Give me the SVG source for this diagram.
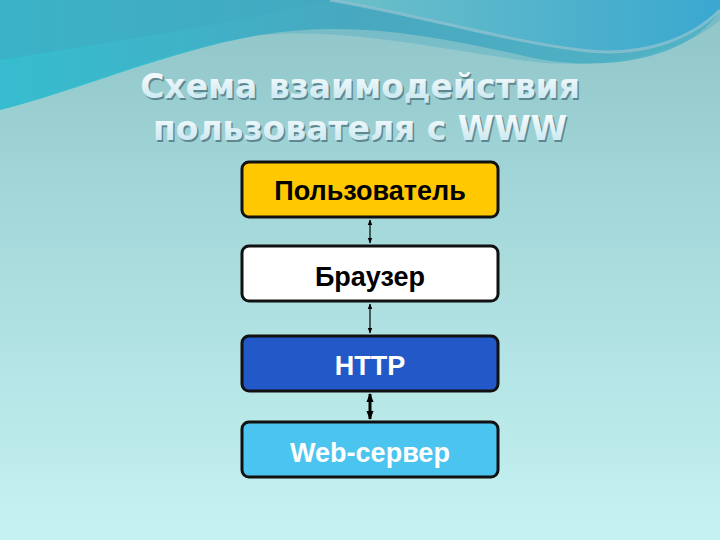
<svg xmlns="http://www.w3.org/2000/svg" width="720" height="540" viewBox="0 0 720 540">
<defs>
<linearGradient id="bg" x1="0" y1="0" x2="0" y2="1">
<stop offset="0" stop-color="#8fc4c8"/>
<stop offset="0.35" stop-color="#a2d6d8"/>
<stop offset="1" stop-color="#c6f2f2"/>
</linearGradient>
<linearGradient id="wave1" x1="0" y1="0" x2="1" y2="0">
<stop offset="0" stop-color="#2ec8d8"/>
<stop offset="0.5" stop-color="#48a8c0"/>
<stop offset="1" stop-color="#5ab8c8"/>
</linearGradient>
<linearGradient id="wave2" x1="0" y1="0" x2="1" y2="0">
<stop offset="0" stop-color="#6ec0c8"/>
<stop offset="1" stop-color="#3aa8d0"/>
</linearGradient>
<linearGradient id="title" x1="0" y1="0" x2="0" y2="1">
<stop offset="0" stop-color="#ffffff"/>
<stop offset="1" stop-color="#c0e4ee"/>
</linearGradient>
<marker id="ah" viewBox="0 0 10 10" refX="9" refY="5" markerWidth="5" markerHeight="5" orient="auto-start-reverse">
<path d="M0,1 L10,5 L0,9 z" fill="#000"/>
</marker>
<marker id="ah2" viewBox="0 0 10 10" refX="9" refY="5" markerWidth="3" markerHeight="3" orient="auto-start-reverse">
<path d="M0,1 L10,5 L0,9 z" fill="#000"/>
</marker>
<style>
.box{stroke:#111;stroke-width:3}
.lbl{font-family:"Liberation Sans",Arial,sans-serif;font-size:27px;font-weight:bold;text-anchor:middle}
.ttl{font-family:"DejaVu Sans","Liberation Sans",sans-serif;font-size:33px;font-weight:bold;text-anchor:middle}
.ttl-f{fill:url(#title)}
.ttl-s{fill:#5f8790}
.ln{stroke:#000;fill:none}
</style>
</defs>
<rect width="720" height="540" fill="url(#bg)"/>
<path d="M0,0 H720 V10 C690,60 600,75 520,55 C430,35 350,20 260,35 C170,50 80,90 0,110 Z" fill="url(#wave1)"/>
<path d="M0,110 C80,90 170,45 260,35 C340,28 420,45 520,60 C600,72 680,55 720,20 V0 H0 Z" fill="#48a8c0" opacity="0.35"/>
<path d="M330,0 H720 V10 C690,40 640,58 580,50 C500,40 420,15 330,0 Z" fill="url(#wave2)"/>
<path d="M330,0 C420,15 500,40 580,50 C640,58 690,40 720,10" fill="none" stroke="#8cc0d0" stroke-width="3" opacity="0.8"/>
<path d="M0,0 H330 C250,20 150,35 0,60 Z" fill="#40a8c0" opacity="0.5"/>
<g id="title-text">
<text class="ttl ttl-s" x="361.5" y="99.5">Схема взаимодействия</text>
<text class="ttl ttl-s" x="361.5" y="141.5">пользователя с WWW</text>
<text class="ttl ttl-f" x="360" y="98">Схема взаимодействия</text>
<text class="ttl ttl-f" x="360" y="140">пользователя с WWW</text>
</g>
<g id="connectors">
<line class="ln" x1="370" y1="220" x2="370" y2="243" stroke-width="1.2" marker-start="url(#ah)" marker-end="url(#ah)"/>
<line class="ln" x1="370" y1="304" x2="370" y2="333" stroke-width="1.2" marker-start="url(#ah)" marker-end="url(#ah)"/>
<line class="ln" x1="370" y1="394" x2="370" y2="419" stroke-width="3" marker-start="url(#ah2)" marker-end="url(#ah2)"/>
</g>
<g id="node-user">
<rect class="box" x="242" y="162" width="256" height="55" rx="7" fill="#ffc800"/>
<text class="lbl" x="370" y="200" fill="#000">Пользователь</text>
</g>
<g id="node-browser">
<rect class="box" x="242" y="246" width="256" height="55" rx="7" fill="#ffffff"/>
<text class="lbl" x="370" y="286" fill="#000" font-weight="normal" style="font-weight:600">Браузер</text>
</g>
<g id="node-http">
<rect class="box" x="242" y="336" width="256" height="55" rx="7" fill="#2358c8"/>
<text class="lbl" x="370" y="375" fill="#fff">HTTP</text>
</g>
<g id="node-web">
<rect class="box" x="242" y="422" width="256" height="55" rx="7" fill="#4cc4f0"/>
<text class="lbl" x="370" y="462" fill="#fff">Web-сервер</text>
</g>
</svg>
